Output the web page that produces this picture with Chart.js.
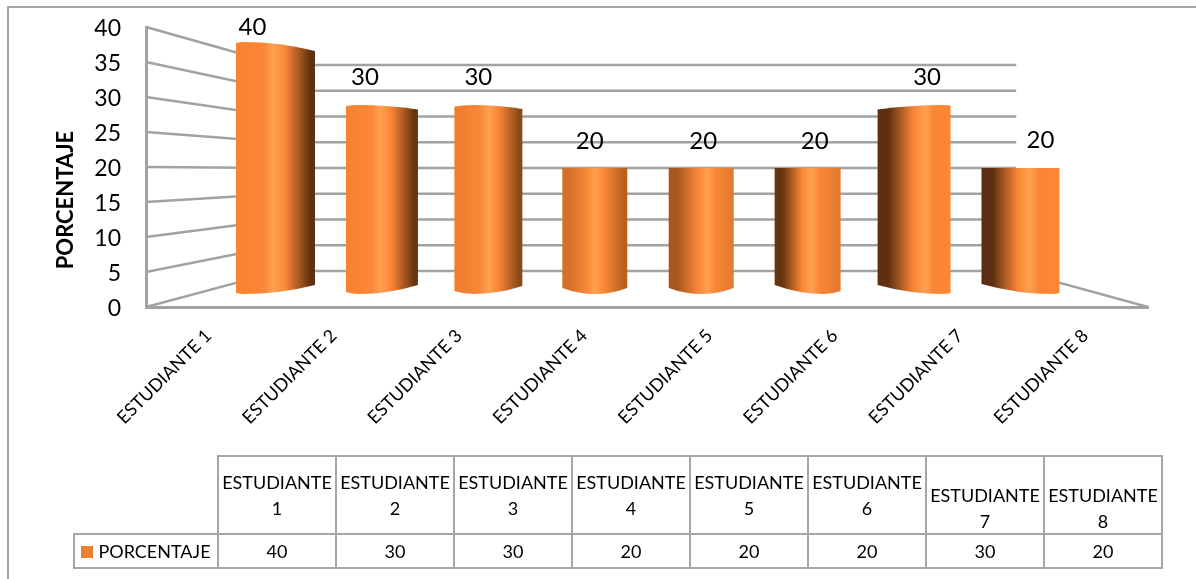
<!DOCTYPE html>
<html lang="es">
<head>
<meta charset="utf-8">
<title>Porcentaje por estudiante</title>
<script src="https://cdn.jsdelivr.net/npm/chart.js@4"></script>
<style>
  html, body { margin: 0; padding: 0; background: #fff; }
  body { width: 1196px; height: 579px; position: relative; overflow: hidden; font-family: Lato, sans-serif; }
  #frame { position: absolute; left: 7px; top: 6px; right: 0; bottom: 0; border-left: 2px solid #a6a6a6; border-top: 2px solid #a6a6a6; }
  #myChart { position: absolute; left: 0; top: 0; }
  #dataTable { position: absolute; left: 73px; top: 455px; width: 1088px; height: 112px; border-collapse: collapse; table-layout: fixed; font-size: 18px; color: #000; }
  #dataTable td { border: 2px solid #a6a6a6; text-align: center; padding: 0; line-height: 26px; white-space: nowrap; }
  #dataTable td.empty { border-top: none; border-left: none; }
  #dataTable td.low span { position: relative; top: 13px; display: block; }
  #dataTable tr.head { height: 78px; }
  #dataTable tr.vals { height: 34px; }
  .swatch { display: inline-block; width: 12px; height: 12px; background: #ed7d31; margin-right: 5px; }
</style>
</head>
<body>
<div id="frame"></div>
<canvas id="myChart" width="1196" height="579"></canvas>
<table id="dataTable"></table>
<script>
const categories = ["ESTUDIANTE 1", "ESTUDIANTE 2", "ESTUDIANTE 3", "ESTUDIANTE 4", "ESTUDIANTE 5", "ESTUDIANTE 6", "ESTUDIANTE 7", "ESTUDIANTE 8"];
const porcentaje = [40, 30, 30, 20, 20, 20, 30, 20];
const yTicks = [0, 5, 10, 15, 20, 25, 30, 35, 40];
const seriesName = "PORCENTAJE";

// look of the 3d cylinders, one entry per bar
const barWidths = [79, 72, 68, 65, 65, 66, 73, 78];
const edgeDrops = [[1, 9], [2, 9], [3, 8], [6, 6], [6, 6], [9, 3], [9, 1], [10, 1]];
const leftShade = ["#f98333", "#f98333", "#f0802f", "#d5702c", "#a8581f", "#65350f", "#5e300f", "#5a2e10"];
const rightShade = ["#5e300f", "#66340f", "#8a4a18", "#b9601f", "#e57a30", "#e57a30", "#fd8632", "#fd8632"];
const highlightAt = [0.47, 0.47, 0.5, 0.5, 0.6, 0.55, 0.66, 0.62];
const labelShift = [-23, -17, -10, -5, 2, 7, 13, 20];
const labelLift = [15, 28, 28, 27, 27, 27, 28, 28];

const gridColor = "#a2a2a2";
const backWall = [1.05, 7.96]; // on the xBars scale

const wallLines = {
  id: "wallLines",
  beforeDatasetsDraw(chart) {
    const { ctx, chartArea, scales } = chart;
    const backLeft = scales.xBars.getPixelForValue(backWall[0]);
    const backRight = scales.xBars.getPixelForValue(backWall[1]);
    ctx.save();
    ctx.strokeStyle = gridColor;
    ctx.lineWidth = 2.5;
    yTicks.forEach((t) => {
      const back = scales.yBack.getPixelForValue(t);
      ctx.beginPath();
      ctx.moveTo(chartArea.left, scales.y.getPixelForValue(t));
      ctx.lineTo(backLeft, back);
      ctx.lineTo(backRight, back);
      ctx.stroke();
    });
    // floor edge on the right
    ctx.beginPath();
    ctx.moveTo(backRight, scales.yBack.getPixelForValue(0));
    ctx.lineTo(chartArea.right, scales.y.getPixelForValue(0));
    ctx.stroke();
    ctx.restore();
  },
};

function curve(ctx, x0, y0, apexX, apexY, x1, y1) {
  ctx.quadraticCurveTo((x0 + apexX) / 2, apexY, apexX, apexY);
  ctx.quadraticCurveTo((apexX + x1) / 2, apexY, x1, y1);
}

const cylinders = {
  id: "cylinders",
  beforeDatasetDraw(chart, args) {
    const { ctx } = chart;
    args.meta.data.forEach((bar, i) => {
      const { x, y, base } = bar.getProps(["x", "y", "base"], true);
      const left = x - barWidths[i] / 2;
      const right = x + barWidths[i] / 2;
      const [dropL, dropR] = edgeDrops[i];
      const apexX = left + barWidths[i] * dropL / (dropL + dropR);
      const lean = (porcentaje[i] - 20) / 20;
      const hi = highlightAt[i];

      const fill = ctx.createLinearGradient(left, 0, right, 0);
      fill.addColorStop(0, leftShade[i]);
      fill.addColorStop(hi * 0.22, leftShade[i]);
      fill.addColorStop(hi * 0.75, "#f98636");
      fill.addColorStop(hi, "#ffa150");
      fill.addColorStop(hi + (1 - hi) * 0.3, "#f98636");
      fill.addColorStop(1 - (1 - hi) * 0.1, rightShade[i]);
      fill.addColorStop(1, rightShade[i]);

      ctx.save();
      ctx.fillStyle = fill;
      ctx.beginPath();
      ctx.moveTo(left, y + dropL * lean);
      curve(ctx, left, y + dropL * lean, apexX, y, right, y + dropR * lean);
      ctx.lineTo(right, base - dropR);
      curve(ctx, right, base - dropR, apexX, base, left, base - dropL);
      ctx.closePath();
      ctx.fill();
      ctx.restore();
    });
    return false;
  },
};

const valueLabels = {
  id: "valueLabels",
  afterDatasetsDraw(chart) {
    const { ctx } = chart;
    const meta = chart.getDatasetMeta(0);
    ctx.save();
    ctx.font = "24px Lato";
    ctx.fillStyle = "#000";
    ctx.textAlign = "center";
    ctx.textBaseline = "middle";
    meta.data.forEach((bar, i) => {
      ctx.fillText(porcentaje[i], bar.x + labelShift[i], bar.y - labelLift[i]);
    });
    // axis title sits lower than the axis centre, so it is placed here
    ctx.font = "bold 22px Lato";
    ctx.translate(66, 200);
    ctx.rotate(-Math.PI / 2);
    ctx.fillText(seriesName, 0, 0);
    ctx.restore();
  },
};

new Chart(document.getElementById("myChart"), {
  type: "bar",
  data: {
    labels: categories,
    datasets: [
      {
        label: seriesName,
        backgroundColor: "#ed7d31",
        xAxisID: "xBars",
        yAxisID: "yBars",
        data: porcentaje.map((v, i) => ({ x: i + 1, y: v })),
      },
    ],
  },
  plugins: [wallLines, cylinders, valueLabels],
  options: {
    responsive: false,
    animation: false,
    layout: { padding: { top: 27, right: 48, left: 0, bottom: 0 } },
    plugins: { legend: { display: false }, tooltip: { enabled: false } },
    scales: {
      x: {
        type: "category",
        offset: true,
        grid: { display: false, drawTicks: false },
        border: { color: gridColor, width: 3 },
        ticks: { autoSkip: false, minRotation: 45, maxRotation: 45, color: "#000", font: { family: "Lato", size: 18 }, padding: 18 },
        afterFit(s) { s.height = 272; s.paddingLeft = 0; s.paddingRight = 0; },
      },
      y: {
        min: 0,
        max: 40,
        grid: { display: false, drawTicks: false },
        border: { color: gridColor, width: 3 },
        afterBuildTicks(s) { s.ticks = yTicks.map((value) => ({ value })); },
        ticks: { color: "#000", font: { family: "Lato", size: 23 }, padding: 25, labelOffset: 2 },
        afterFit(s) { s.width = 146; s.paddingTop = 0; s.paddingBottom = 0; },
      },
      // cylinders and the back wall are on their own scales because of the perspective
      xBars: { type: "linear", display: false, offset: false, grid: { offset: false }, min: -0.2168, max: 9.198 },
      yBars: { type: "linear", display: false, min: -2.07, max: 42.39 },
      yBack: { type: "linear", display: false, min: -7.01, max: 47.37 },
    },
  },
});

const table = document.getElementById("dataTable");
const headCells = categories.map((c, i) => {
  const [word, num] = c.split(" ");
  return `<td class="${i >= 6 ? "low" : ""}"><span>${word}<br>${num}</span></td>`;
});
const valueCells = porcentaje.map((v) => `<td>${v}</td>`);
table.innerHTML =
  `<colgroup><col style="width:144px">${categories.map(() => '<col style="width:118px">').join("")}</colgroup>` +
  `<tr class="head"><td class="empty"></td>${headCells.join("")}</tr>` +
  `<tr class="vals"><td><i class="swatch"></i>${seriesName}</td>${valueCells.join("")}</tr>`;
</script>
</body>
</html>
